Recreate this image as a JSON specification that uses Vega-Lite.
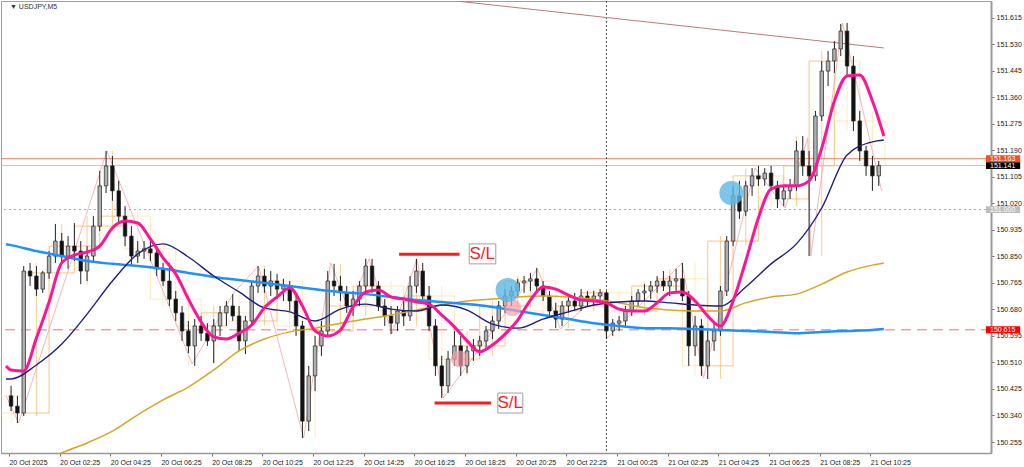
{
"$schema": "https://vega.github.io/schema/vega-lite/v6.json",
"width": 990, "height": 452, "padding": 0, "autosize": {"type": "pad"},
"background": "white",
"config": {"view": {"stroke": "#a0a0a0"}, "font": "Liberation Sans",
 "axisY": {"labelOverlap": false, "labelFlush": false, "labelFontSize": 7, "grid": false},
 "axisX": {"labelOverlap": false, "labelFlush": false, "labelFontSize": 7, "grid": false}},
"datasets": {
"candles": [
{"t":"2025-10-20T00:30Z","o":150.403,"h":150.435,"l":150.354,"c":150.370},
{"t":"2025-10-20T00:45Z","o":150.370,"h":150.403,"l":150.316,"c":150.348},
{"t":"2025-10-20T01:00Z","o":150.348,"h":150.819,"l":150.338,"c":150.803},
{"t":"2025-10-20T01:15Z","o":150.803,"h":150.829,"l":150.755,"c":150.787},
{"t":"2025-10-20T01:30Z","o":150.787,"h":150.819,"l":150.723,"c":150.745},
{"t":"2025-10-20T01:45Z","o":150.745,"h":150.803,"l":150.733,"c":150.797},
{"t":"2025-10-20T02:00Z","o":150.797,"h":150.867,"l":150.778,"c":150.851},
{"t":"2025-10-20T02:15Z","o":150.851,"h":150.954,"l":150.829,"c":150.899},
{"t":"2025-10-20T02:30Z","o":150.899,"h":150.925,"l":150.829,"c":150.851},
{"t":"2025-10-20T02:45Z","o":150.851,"h":150.915,"l":150.810,"c":150.883},
{"t":"2025-10-20T03:00Z","o":150.883,"h":150.957,"l":150.835,"c":150.867},
{"t":"2025-10-20T03:15Z","o":150.867,"h":150.899,"l":150.761,"c":150.803},
{"t":"2025-10-20T03:30Z","o":150.803,"h":150.883,"l":150.771,"c":150.851},
{"t":"2025-10-20T03:45Z","o":150.851,"h":150.979,"l":150.835,"c":150.947},
{"t":"2025-10-20T04:00Z","o":150.947,"h":151.124,"l":150.931,"c":151.076},
{"t":"2025-10-20T04:15Z","o":151.076,"h":151.188,"l":151.053,"c":151.140},
{"t":"2025-10-20T04:30Z","o":151.140,"h":151.172,"l":151.028,"c":151.060},
{"t":"2025-10-20T04:45Z","o":151.060,"h":151.092,"l":150.957,"c":150.979},
{"t":"2025-10-20T05:00Z","o":150.979,"h":151.011,"l":150.883,"c":150.915},
{"t":"2025-10-20T05:15Z","o":150.915,"h":150.947,"l":150.819,"c":150.851},
{"t":"2025-10-20T05:30Z","o":150.851,"h":150.899,"l":150.829,"c":150.867},
{"t":"2025-10-20T05:45Z","o":150.867,"h":150.899,"l":150.842,"c":150.874},
{"t":"2025-10-20T06:00Z","o":150.874,"h":150.906,"l":150.835,"c":150.861},
{"t":"2025-10-20T06:15Z","o":150.861,"h":150.883,"l":150.787,"c":150.810},
{"t":"2025-10-20T06:30Z","o":150.810,"h":150.829,"l":150.755,"c":150.771},
{"t":"2025-10-20T06:45Z","o":150.771,"h":150.829,"l":150.691,"c":150.713},
{"t":"2025-10-20T07:00Z","o":150.713,"h":150.739,"l":150.643,"c":150.669},
{"t":"2025-10-20T07:15Z","o":150.669,"h":150.691,"l":150.579,"c":150.611},
{"t":"2025-10-20T07:30Z","o":150.611,"h":150.643,"l":150.540,"c":150.563},
{"t":"2025-10-20T07:45Z","o":150.563,"h":150.649,"l":150.499,"c":150.627},
{"t":"2025-10-20T08:00Z","o":150.627,"h":150.659,"l":150.579,"c":150.604},
{"t":"2025-10-20T08:15Z","o":150.604,"h":150.636,"l":150.563,"c":150.579},
{"t":"2025-10-20T08:30Z","o":150.579,"h":150.649,"l":150.508,"c":150.627},
{"t":"2025-10-20T08:45Z","o":150.627,"h":150.691,"l":150.595,"c":150.669},
{"t":"2025-10-20T09:00Z","o":150.669,"h":150.707,"l":150.627,"c":150.691},
{"t":"2025-10-20T09:15Z","o":150.691,"h":150.729,"l":150.643,"c":150.659},
{"t":"2025-10-20T09:30Z","o":150.659,"h":150.691,"l":150.547,"c":150.579},
{"t":"2025-10-20T09:45Z","o":150.579,"h":150.659,"l":150.537,"c":150.643},
{"t":"2025-10-20T10:00Z","o":150.643,"h":150.771,"l":150.627,"c":150.755},
{"t":"2025-10-20T10:15Z","o":150.755,"h":150.819,"l":150.733,"c":150.787},
{"t":"2025-10-20T10:30Z","o":150.787,"h":150.810,"l":150.733,"c":150.755},
{"t":"2025-10-20T10:45Z","o":150.755,"h":150.803,"l":150.723,"c":150.771},
{"t":"2025-10-20T11:00Z","o":150.771,"h":150.794,"l":150.713,"c":150.745},
{"t":"2025-10-20T11:15Z","o":150.745,"h":150.778,"l":150.707,"c":150.755},
{"t":"2025-10-20T11:30Z","o":150.755,"h":150.771,"l":150.675,"c":150.707},
{"t":"2025-10-20T11:45Z","o":150.707,"h":150.723,"l":150.595,"c":150.627},
{"t":"2025-10-20T12:00Z","o":150.627,"h":150.643,"l":150.268,"c":150.322},
{"t":"2025-10-20T12:15Z","o":150.322,"h":150.499,"l":150.290,"c":150.467},
{"t":"2025-10-20T12:30Z","o":150.467,"h":150.595,"l":150.418,"c":150.563},
{"t":"2025-10-20T12:45Z","o":150.563,"h":150.643,"l":150.531,"c":150.611},
{"t":"2025-10-20T13:00Z","o":150.611,"h":150.803,"l":150.595,"c":150.771},
{"t":"2025-10-20T13:15Z","o":150.771,"h":150.826,"l":150.723,"c":150.755},
{"t":"2025-10-20T13:30Z","o":150.755,"h":150.787,"l":150.707,"c":150.733},
{"t":"2025-10-20T13:45Z","o":150.733,"h":150.755,"l":150.669,"c":150.691},
{"t":"2025-10-20T14:00Z","o":150.691,"h":150.739,"l":150.659,"c":150.713},
{"t":"2025-10-20T14:15Z","o":150.713,"h":150.771,"l":150.691,"c":150.755},
{"t":"2025-10-20T14:30Z","o":150.755,"h":150.842,"l":150.739,"c":150.819},
{"t":"2025-10-20T14:45Z","o":150.819,"h":150.842,"l":150.733,"c":150.755},
{"t":"2025-10-20T15:00Z","o":150.755,"h":150.771,"l":150.675,"c":150.691},
{"t":"2025-10-20T15:15Z","o":150.691,"h":150.713,"l":150.627,"c":150.659},
{"t":"2025-10-20T15:30Z","o":150.659,"h":150.691,"l":150.601,"c":150.636},
{"t":"2025-10-20T15:45Z","o":150.636,"h":150.691,"l":150.611,"c":150.675},
{"t":"2025-10-20T16:00Z","o":150.675,"h":150.707,"l":150.627,"c":150.659},
{"t":"2025-10-20T16:15Z","o":150.659,"h":150.787,"l":150.643,"c":150.755},
{"t":"2025-10-20T16:30Z","o":150.755,"h":150.842,"l":150.733,"c":150.803},
{"t":"2025-10-20T16:45Z","o":150.803,"h":150.829,"l":150.707,"c":150.723},
{"t":"2025-10-20T17:00Z","o":150.723,"h":150.755,"l":150.611,"c":150.627},
{"t":"2025-10-20T17:15Z","o":150.627,"h":150.649,"l":150.467,"c":150.499},
{"t":"2025-10-20T17:30Z","o":150.499,"h":150.531,"l":150.396,"c":150.435},
{"t":"2025-10-20T17:45Z","o":150.435,"h":150.547,"l":150.412,"c":150.521},
{"t":"2025-10-20T18:00Z","o":150.521,"h":150.611,"l":150.499,"c":150.563},
{"t":"2025-10-20T18:15Z","o":150.563,"h":150.595,"l":150.467,"c":150.499},
{"t":"2025-10-20T18:30Z","o":150.499,"h":150.563,"l":150.476,"c":150.547},
{"t":"2025-10-20T18:45Z","o":150.547,"h":150.585,"l":150.515,"c":150.563},
{"t":"2025-10-20T19:00Z","o":150.563,"h":150.595,"l":150.531,"c":150.579},
{"t":"2025-10-20T19:15Z","o":150.579,"h":150.627,"l":150.547,"c":150.611},
{"t":"2025-10-20T19:30Z","o":150.611,"h":150.659,"l":150.585,"c":150.643},
{"t":"2025-10-20T19:45Z","o":150.643,"h":150.707,"l":150.617,"c":150.691},
{"t":"2025-10-20T20:00Z","o":150.691,"h":150.745,"l":150.669,"c":150.723},
{"t":"2025-10-20T20:15Z","o":150.723,"h":150.755,"l":150.691,"c":150.739},
{"t":"2025-10-20T20:30Z","o":150.739,"h":150.778,"l":150.723,"c":150.765},
{"t":"2025-10-20T20:45Z","o":150.765,"h":150.787,"l":150.733,"c":150.771},
{"t":"2025-10-20T21:00Z","o":150.771,"h":150.797,"l":150.739,"c":150.778},
{"t":"2025-10-20T21:15Z","o":150.778,"h":150.813,"l":150.739,"c":150.755},
{"t":"2025-10-20T21:30Z","o":150.755,"h":150.771,"l":150.707,"c":150.723},
{"t":"2025-10-20T21:45Z","o":150.723,"h":150.739,"l":150.659,"c":150.675},
{"t":"2025-10-20T22:00Z","o":150.675,"h":150.701,"l":150.620,"c":150.649},
{"t":"2025-10-20T22:15Z","o":150.649,"h":150.707,"l":150.627,"c":150.691},
{"t":"2025-10-20T22:30Z","o":150.691,"h":150.723,"l":150.669,"c":150.707},
{"t":"2025-10-20T22:45Z","o":150.707,"h":150.733,"l":150.675,"c":150.691},
{"t":"2025-10-20T23:00Z","o":150.691,"h":150.745,"l":150.675,"c":150.723},
{"t":"2025-10-20T23:15Z","o":150.723,"h":150.739,"l":150.691,"c":150.713},
{"t":"2025-10-20T23:30Z","o":150.713,"h":150.739,"l":150.691,"c":150.723},
{"t":"2025-10-20T23:45Z","o":150.723,"h":150.745,"l":150.701,"c":150.733},
{"t":"2025-10-21T00:00Z","o":150.733,"h":150.739,"l":150.585,"c":150.611},
{"t":"2025-10-21T00:15Z","o":150.611,"h":150.649,"l":150.595,"c":150.636},
{"t":"2025-10-21T00:30Z","o":150.636,"h":150.659,"l":150.611,"c":150.643},
{"t":"2025-10-21T00:45Z","o":150.643,"h":150.691,"l":150.627,"c":150.675},
{"t":"2025-10-21T01:00Z","o":150.675,"h":150.723,"l":150.659,"c":150.707},
{"t":"2025-10-21T01:15Z","o":150.707,"h":150.745,"l":150.691,"c":150.733},
{"t":"2025-10-21T01:30Z","o":150.733,"h":150.761,"l":150.707,"c":150.739},
{"t":"2025-10-21T01:45Z","o":150.739,"h":150.771,"l":150.713,"c":150.755},
{"t":"2025-10-21T02:00Z","o":150.755,"h":150.787,"l":150.733,"c":150.771},
{"t":"2025-10-21T02:15Z","o":150.771,"h":150.803,"l":150.739,"c":150.755},
{"t":"2025-10-21T02:30Z","o":150.755,"h":150.787,"l":150.723,"c":150.771},
{"t":"2025-10-21T02:45Z","o":150.771,"h":150.810,"l":150.739,"c":150.778},
{"t":"2025-10-21T03:00Z","o":150.778,"h":150.829,"l":150.707,"c":150.723},
{"t":"2025-10-21T03:15Z","o":150.723,"h":150.739,"l":150.499,"c":150.563},
{"t":"2025-10-21T03:30Z","o":150.563,"h":150.659,"l":150.531,"c":150.627},
{"t":"2025-10-21T03:45Z","o":150.627,"h":150.649,"l":150.467,"c":150.499},
{"t":"2025-10-21T04:00Z","o":150.499,"h":150.611,"l":150.457,"c":150.579},
{"t":"2025-10-21T04:15Z","o":150.579,"h":150.636,"l":150.547,"c":150.611},
{"t":"2025-10-21T04:30Z","o":150.611,"h":150.755,"l":150.595,"c":150.739},
{"t":"2025-10-21T04:45Z","o":150.739,"h":150.915,"l":150.723,"c":150.899},
{"t":"2025-10-21T05:00Z","o":150.899,"h":151.076,"l":150.883,"c":151.044},
{"t":"2025-10-21T05:15Z","o":151.044,"h":151.092,"l":150.970,"c":150.995},
{"t":"2025-10-21T05:30Z","o":150.995,"h":151.092,"l":150.979,"c":151.076},
{"t":"2025-10-21T05:45Z","o":151.076,"h":151.133,"l":151.044,"c":151.108},
{"t":"2025-10-21T06:00Z","o":151.108,"h":151.140,"l":151.076,"c":151.098},
{"t":"2025-10-21T06:15Z","o":151.098,"h":151.133,"l":151.076,"c":151.117},
{"t":"2025-10-21T06:30Z","o":151.117,"h":151.140,"l":151.060,"c":151.076},
{"t":"2025-10-21T06:45Z","o":151.076,"h":151.092,"l":151.005,"c":151.034},
{"t":"2025-10-21T07:00Z","o":151.034,"h":151.076,"l":151.011,"c":151.060},
{"t":"2025-10-21T07:15Z","o":151.060,"h":151.098,"l":151.034,"c":151.076},
{"t":"2025-10-21T07:30Z","o":151.076,"h":151.220,"l":151.060,"c":151.188},
{"t":"2025-10-21T07:45Z","o":151.188,"h":151.236,"l":151.108,"c":151.140},
{"t":"2025-10-21T08:00Z","o":151.140,"h":151.188,"l":150.851,"c":151.108},
{"t":"2025-10-21T08:15Z","o":151.108,"h":151.316,"l":151.092,"c":151.300},
{"t":"2025-10-21T08:30Z","o":151.300,"h":151.476,"l":151.284,"c":151.444},
{"t":"2025-10-21T08:45Z","o":151.444,"h":151.508,"l":151.396,"c":151.476},
{"t":"2025-10-21T09:00Z","o":151.476,"h":151.540,"l":151.438,"c":151.515},
{"t":"2025-10-21T09:15Z","o":151.515,"h":151.595,"l":151.492,"c":151.572},
{"t":"2025-10-21T09:30Z","o":151.572,"h":151.598,"l":151.428,"c":151.460},
{"t":"2025-10-21T09:45Z","o":151.460,"h":151.492,"l":151.252,"c":151.284},
{"t":"2025-10-21T10:00Z","o":151.284,"h":151.316,"l":151.156,"c":151.188},
{"t":"2025-10-21T10:15Z","o":151.188,"h":151.204,"l":151.108,"c":151.140},
{"t":"2025-10-21T10:30Z","o":151.140,"h":151.172,"l":151.060,"c":151.108},
{"t":"2025-10-21T10:45Z","o":151.108,"h":151.156,"l":151.076,"c":151.141}
],
"fast": [
{"t":"2025-10-20T00:18Z","v":150.499},
{"t":"2025-10-20T00:30Z","v":150.486},{"t":"2025-10-20T01:00Z","v":150.483},{"t":"2025-10-20T01:30Z","v":150.588},{"t":"2025-10-20T02:00Z","v":150.704},
{"t":"2025-10-20T02:30Z","v":150.829},{"t":"2025-10-20T03:00Z","v":150.854},{"t":"2025-10-20T03:30Z","v":150.864},{"t":"2025-10-20T04:00Z","v":150.883},
{"t":"2025-10-20T04:30Z","v":150.941},{"t":"2025-10-20T05:00Z","v":150.963},{"t":"2025-10-20T05:30Z","v":150.957},{"t":"2025-10-20T06:00Z","v":150.906},
{"t":"2025-10-20T06:30Z","v":150.845},{"t":"2025-10-20T07:00Z","v":150.794},{"t":"2025-10-20T07:30Z","v":150.713},{"t":"2025-10-20T08:00Z","v":150.640},
{"t":"2025-10-20T08:30Z","v":150.592},{"t":"2025-10-20T09:00Z","v":150.585},{"t":"2025-10-20T09:30Z","v":150.604},{"t":"2025-10-20T10:00Z","v":150.630},
{"t":"2025-10-20T10:30Z","v":150.685},{"t":"2025-10-20T11:00Z","v":150.720},{"t":"2025-10-20T11:30Z","v":150.749},{"t":"2025-10-20T12:00Z","v":150.691},
{"t":"2025-10-20T12:30Z","v":150.611},{"t":"2025-10-20T13:00Z","v":150.595},{"t":"2025-10-20T13:30Z","v":150.614},{"t":"2025-10-20T14:00Z","v":150.688},
{"t":"2025-10-20T14:30Z","v":150.736},{"t":"2025-10-20T15:00Z","v":150.742},{"t":"2025-10-20T15:30Z","v":150.720},{"t":"2025-10-20T16:00Z","v":150.713},
{"t":"2025-10-20T16:30Z","v":150.704},{"t":"2025-10-20T17:00Z","v":150.697},{"t":"2025-10-20T17:30Z","v":150.662},{"t":"2025-10-20T18:00Z","v":150.624},
{"t":"2025-10-20T18:30Z","v":150.579},{"t":"2025-10-20T19:00Z","v":150.544},{"t":"2025-10-20T19:30Z","v":150.566},{"t":"2025-10-20T20:00Z","v":150.601},
{"t":"2025-10-20T20:30Z","v":150.646},{"t":"2025-10-20T21:00Z","v":150.710},{"t":"2025-10-20T21:30Z","v":150.752},{"t":"2025-10-20T22:00Z","v":150.745},
{"t":"2025-10-20T22:30Z","v":150.726},{"t":"2025-10-20T23:00Z","v":150.710},{"t":"2025-10-20T23:30Z","v":150.707},{"t":"2025-10-21T00:00Z","v":150.701},
{"t":"2025-10-21T00:30Z","v":150.681},{"t":"2025-10-21T01:00Z","v":150.675},{"t":"2025-10-21T01:30Z","v":150.675},{"t":"2025-10-21T02:00Z","v":150.701},
{"t":"2025-10-21T02:30Z","v":150.733},{"t":"2025-10-21T03:00Z","v":150.736},{"t":"2025-10-21T03:30Z","v":150.707},{"t":"2025-10-21T04:00Z","v":150.659},
{"t":"2025-10-21T04:30Z","v":150.627},{"t":"2025-10-21T05:00Z","v":150.707},{"t":"2025-10-21T05:30Z","v":150.835},{"t":"2025-10-21T06:00Z","v":150.973},
{"t":"2025-10-21T06:30Z","v":151.066},{"t":"2025-10-21T07:00Z","v":151.076},{"t":"2025-10-21T07:30Z","v":151.076},{"t":"2025-10-21T08:00Z","v":151.092},
{"t":"2025-10-21T08:30Z","v":151.197},{"t":"2025-10-21T09:00Z","v":151.348},{"t":"2025-10-21T09:30Z","v":151.428},{"t":"2025-10-21T10:00Z","v":151.431},
{"t":"2025-10-21T10:30Z","v":151.348},{"t":"2025-10-21T10:57Z","v":151.236}
],
"slow": [
{"t":"2025-10-20T00:18Z","n":150.457,"b":150.889,"g":150.140},
{"t":"2025-10-20T00:30Z","n":150.457,"b":150.886,"g":150.146},
{"t":"2025-10-20T01:30Z","n":150.502,"b":150.867,"g":150.178},
{"t":"2025-10-20T02:30Z","n":150.569,"b":150.851,"g":150.220},
{"t":"2025-10-20T03:30Z","n":150.665,"b":150.835,"g":150.252},
{"t":"2025-10-20T04:30Z","n":150.771,"b":150.826,"g":150.290},
{"t":"2025-10-20T05:30Z","n":150.858,"b":150.819,"g":150.342},
{"t":"2025-10-20T06:30Z","n":150.890,"b":150.810,"g":150.390},
{"t":"2025-10-20T07:30Z","n":150.848,"b":150.797,"g":150.431},
{"t":"2025-10-20T08:30Z","n":150.787,"b":150.784,"g":150.486},
{"t":"2025-10-20T09:30Z","n":150.736,"b":150.774,"g":150.547},
{"t":"2025-10-20T10:30Z","n":150.685,"b":150.765,"g":150.585},
{"t":"2025-10-20T11:30Z","n":150.672,"b":150.755,"g":150.608},
{"t":"2025-10-20T12:30Z","n":150.643,"b":150.745,"g":150.620},
{"t":"2025-10-20T13:30Z","n":150.681,"b":150.736,"g":150.636},
{"t":"2025-10-20T14:30Z","n":150.697,"b":150.729,"g":150.649},
{"t":"2025-10-20T15:30Z","n":150.681,"b":150.720,"g":150.662},
{"t":"2025-10-20T16:30Z","n":150.675,"b":150.710,"g":150.678},
{"t":"2025-10-20T17:30Z","n":150.694,"b":150.704,"g":150.694},
{"t":"2025-10-20T18:30Z","n":150.678,"b":150.697,"g":150.707},
{"t":"2025-10-20T19:30Z","n":150.633,"b":150.688,"g":150.713},
{"t":"2025-10-20T20:30Z","n":150.620,"b":150.675,"g":150.720},
{"t":"2025-10-20T21:30Z","n":150.649,"b":150.662,"g":150.723},
{"t":"2025-10-20T22:30Z","n":150.672,"b":150.649,"g":150.720},
{"t":"2025-10-20T23:30Z","n":150.694,"b":150.636,"g":150.713},
{"t":"2025-10-21T00:30Z","n":150.704,"b":150.627,"g":150.701},
{"t":"2025-10-21T01:30Z","n":150.707,"b":150.620,"g":150.685},
{"t":"2025-10-21T02:30Z","n":150.701,"b":150.620,"g":150.678},
{"t":"2025-10-21T03:30Z","n":150.694,"b":150.617,"g":150.675},
{"t":"2025-10-21T04:30Z","n":150.691,"b":150.614,"g":150.675},
{"t":"2025-10-21T05:30Z","n":150.752,"b":150.611,"g":150.701},
{"t":"2025-10-21T06:30Z","n":150.826,"b":150.608,"g":150.720},
{"t":"2025-10-21T07:30Z","n":150.890,"b":150.604,"g":150.729},
{"t":"2025-10-21T08:30Z","n":151.005,"b":150.608,"g":150.761},
{"t":"2025-10-21T09:30Z","n":151.175,"b":150.611,"g":150.800},
{"t":"2025-10-21T10:30Z","n":151.217,"b":150.614,"g":150.822},
{"t":"2025-10-21T10:57Z","n":151.223,"b":150.617,"g":150.829}
],
"h1": [
{"t":"2025-10-20T00:00Z","e":"2025-10-20T01:00Z","m":"2025-10-20T00:30Z","o":150.403,"c":150.348,"h":150.435,"l":150.316},
{"t":"2025-10-20T01:00Z","e":"2025-10-20T02:00Z","m":"2025-10-20T01:30Z","o":150.348,"c":150.797,"h":150.829,"l":150.338},
{"t":"2025-10-20T02:00Z","e":"2025-10-20T03:00Z","m":"2025-10-20T02:30Z","o":150.797,"c":150.883,"h":150.954,"l":150.810},
{"t":"2025-10-20T03:00Z","e":"2025-10-20T04:00Z","m":"2025-10-20T03:30Z","o":150.883,"c":150.947,"h":150.979,"l":150.761},
{"t":"2025-10-20T04:00Z","e":"2025-10-20T05:00Z","m":"2025-10-20T04:30Z","o":150.947,"c":150.979,"h":151.188,"l":150.931},
{"t":"2025-10-20T05:00Z","e":"2025-10-20T06:00Z","m":"2025-10-20T05:30Z","o":150.979,"c":150.874,"h":151.011,"l":150.819},
{"t":"2025-10-20T06:00Z","e":"2025-10-20T07:00Z","m":"2025-10-20T06:30Z","o":150.874,"c":150.713,"h":150.906,"l":150.691},
{"t":"2025-10-20T07:00Z","e":"2025-10-20T08:00Z","m":"2025-10-20T07:30Z","o":150.713,"c":150.627,"h":150.739,"l":150.499},
{"t":"2025-10-20T08:00Z","e":"2025-10-20T09:00Z","m":"2025-10-20T08:30Z","o":150.627,"c":150.669,"h":150.691,"l":150.508},
{"t":"2025-10-20T09:00Z","e":"2025-10-20T10:00Z","m":"2025-10-20T09:30Z","o":150.669,"c":150.643,"h":150.729,"l":150.537},
{"t":"2025-10-20T10:00Z","e":"2025-10-20T11:00Z","m":"2025-10-20T10:30Z","o":150.643,"c":150.771,"h":150.819,"l":150.627},
{"t":"2025-10-20T11:00Z","e":"2025-10-20T12:00Z","m":"2025-10-20T11:30Z","o":150.771,"c":150.627,"h":150.794,"l":150.595},
{"t":"2025-10-20T12:00Z","e":"2025-10-20T13:00Z","m":"2025-10-20T12:30Z","o":150.627,"c":150.611,"h":150.643,"l":150.268},
{"t":"2025-10-20T13:00Z","e":"2025-10-20T14:00Z","m":"2025-10-20T13:30Z","o":150.611,"c":150.691,"h":150.826,"l":150.595},
{"t":"2025-10-20T14:00Z","e":"2025-10-20T15:00Z","m":"2025-10-20T14:30Z","o":150.691,"c":150.755,"h":150.842,"l":150.659},
{"t":"2025-10-20T15:00Z","e":"2025-10-20T16:00Z","m":"2025-10-20T15:30Z","o":150.755,"c":150.675,"h":150.771,"l":150.601},
{"t":"2025-10-20T16:00Z","e":"2025-10-20T17:00Z","m":"2025-10-20T16:30Z","o":150.675,"c":150.723,"h":150.842,"l":150.627},
{"t":"2025-10-20T17:00Z","e":"2025-10-20T18:00Z","m":"2025-10-20T17:30Z","o":150.723,"c":150.521,"h":150.755,"l":150.396},
{"t":"2025-10-20T18:00Z","e":"2025-10-20T19:00Z","m":"2025-10-20T18:30Z","o":150.521,"c":150.563,"h":150.611,"l":150.467},
{"t":"2025-10-20T19:00Z","e":"2025-10-20T20:00Z","m":"2025-10-20T19:30Z","o":150.563,"c":150.691,"h":150.707,"l":150.531},
{"t":"2025-10-20T20:00Z","e":"2025-10-20T21:00Z","m":"2025-10-20T20:30Z","o":150.691,"c":150.771,"h":150.787,"l":150.669},
{"t":"2025-10-20T21:00Z","e":"2025-10-20T22:00Z","m":"2025-10-20T21:30Z","o":150.771,"c":150.675,"h":150.813,"l":150.659},
{"t":"2025-10-20T22:00Z","e":"2025-10-20T23:00Z","m":"2025-10-20T22:30Z","o":150.675,"c":150.691,"h":150.723,"l":150.620},
{"t":"2025-10-20T23:00Z","e":"2025-10-21T00:00Z","m":"2025-10-20T23:30Z","o":150.691,"c":150.733,"h":150.745,"l":150.675},
{"t":"2025-10-21T00:00Z","e":"2025-10-21T01:00Z","m":"2025-10-21T00:30Z","o":150.733,"c":150.675,"h":150.739,"l":150.585},
{"t":"2025-10-21T01:00Z","e":"2025-10-21T02:00Z","m":"2025-10-21T01:30Z","o":150.675,"c":150.755,"h":150.771,"l":150.659},
{"t":"2025-10-21T02:00Z","e":"2025-10-21T03:00Z","m":"2025-10-21T02:30Z","o":150.755,"c":150.778,"h":150.810,"l":150.723},
{"t":"2025-10-21T03:00Z","e":"2025-10-21T04:00Z","m":"2025-10-21T03:30Z","o":150.778,"c":150.499,"h":150.829,"l":150.467},
{"t":"2025-10-21T04:00Z","e":"2025-10-21T05:00Z","m":"2025-10-21T04:30Z","o":150.499,"c":150.899,"h":150.915,"l":150.457},
{"t":"2025-10-21T05:00Z","e":"2025-10-21T06:00Z","m":"2025-10-21T05:30Z","o":150.899,"c":151.108,"h":151.133,"l":150.883},
{"t":"2025-10-21T06:00Z","e":"2025-10-21T07:00Z","m":"2025-10-21T06:30Z","o":151.108,"c":151.034,"h":151.140,"l":151.005},
{"t":"2025-10-21T07:00Z","e":"2025-10-21T08:00Z","m":"2025-10-21T07:30Z","o":151.034,"c":151.140,"h":151.236,"l":151.011},
{"t":"2025-10-21T08:00Z","e":"2025-10-21T09:00Z","m":"2025-10-21T08:30Z","o":151.140,"c":151.476,"h":151.508,"l":150.851},
{"t":"2025-10-21T09:00Z","e":"2025-10-21T10:00Z","m":"2025-10-21T09:30Z","o":151.476,"c":151.284,"h":151.598,"l":151.252},
{"t":"2025-10-21T10:00Z","e":"2025-10-21T11:00Z","m":"2025-10-21T10:30Z","o":151.284,"c":151.141,"h":151.316,"l":151.060}
],
"zz": [
{"t":"2025-10-20T00:18Z","p":150.403},{"t":"2025-10-20T00:48Z","p":150.316},{"t":"2025-10-20T04:17Z","p":151.188},{"t":"2025-10-20T07:39Z","p":150.505},
{"t":"2025-10-20T09:17Z","p":150.733},{"t":"2025-10-20T10:16Z","p":150.819},{"t":"2025-10-20T12:03Z","p":150.268},{"t":"2025-10-20T13:07Z","p":150.829},
{"t":"2025-10-20T13:51Z","p":150.675},{"t":"2025-10-20T14:38Z","p":150.842},{"t":"2025-10-20T15:32Z","p":150.601},{"t":"2025-10-20T16:31Z","p":150.842},
{"t":"2025-10-20T17:34Z","p":150.396},{"t":"2025-10-20T21:17Z","p":150.810},{"t":"2025-10-20T22:11Z","p":150.617},{"t":"2025-10-20T23:51Z","p":150.739},
{"t":"2025-10-21T00:01Z","p":150.588},{"t":"2025-10-21T02:59Z","p":150.829},{"t":"2025-10-21T03:50Z","p":150.460},{"t":"2025-10-21T05:52Z","p":151.133},
{"t":"2025-10-21T07:03Z","p":151.005},{"t":"2025-10-21T07:57Z","p":151.229},{"t":"2025-10-21T08:04Z","p":150.851},{"t":"2025-10-21T09:19Z","p":151.598},
{"t":"2025-10-21T10:52Z","p":151.060}
],
"diag": [
{"t":"2025-10-20T18:04Z","p":151.6685},{"t":"2025-10-21T10:57Z","p":151.518}
],
"sl": [
{"a":"2025-10-20T15:49Z","b":"2025-10-20T18:12Z","p":150.857,"ba":"2025-10-20T18:35Z","bb":"2025-10-20T19:38Z","p1":150.890,"p2":150.826,"m":"2025-10-20T19:06Z","txt":"S/L"},
{"a":"2025-10-20T17:13Z","b":"2025-10-20T19:27Z","p":150.380,"ba":"2025-10-20T19:43Z","bb":"2025-10-20T20:42Z","p1":150.412,"p2":150.348,"m":"2025-10-20T20:12Z","txt":"S/L"}
],
"blue": [
{"t":"2025-10-20T20:06Z","p":150.742},{"t":"2025-10-21T04:56Z","p":151.053}
],
"pink": [
{"t":"2025-10-20T20:18Z","p":150.685},{"t":"2025-10-20T18:12Z","p":150.521}
],
"tags": [
{"p":151.163,"lo":151.152,"hi":151.174,"k":"ask"},
{"p":151.141,"lo":151.130,"hi":151.152,"k":"bid"},
{"p":151.000,"lo":150.989,"hi":151.011,"k":"level"},
{"p":150.615,"lo":150.604,"hi":150.626,"k":"line"}
],
"one": [{}]
},
"layer": [
{
"data": {"name": "h1"},
"mark": {"type": "rect", "filled": false, "strokeWidth": 1, "opacity": 0.7, "clip": true},
"encoding": {
"x": {"field": "t", "type": "temporal", "title": null,
 "scale": {"type": "utc", "domain": [{"year":2025,"month":"October","date":20,"hours":0,"minutes":18,"utc":true},{"year":2025,"month":"October","date":21,"hours":14,"minutes":59,"utc":true}]},
 "axis": {"orient": "bottom", "title": null, "grid": false, "tickCount": 30,
  "values": [
   {"year":2025,"month":"October","date":20,"hours":0,"minutes":25,"utc":true},
   {"year":2025,"month":"October","date":20,"hours":2,"minutes":25,"utc":true},
   {"year":2025,"month":"October","date":20,"hours":4,"minutes":25,"utc":true},
   {"year":2025,"month":"October","date":20,"hours":6,"minutes":25,"utc":true},
   {"year":2025,"month":"October","date":20,"hours":8,"minutes":25,"utc":true},
   {"year":2025,"month":"October","date":20,"hours":10,"minutes":25,"utc":true},
   {"year":2025,"month":"October","date":20,"hours":12,"minutes":25,"utc":true},
   {"year":2025,"month":"October","date":20,"hours":14,"minutes":25,"utc":true},
   {"year":2025,"month":"October","date":20,"hours":16,"minutes":25,"utc":true},
   {"year":2025,"month":"October","date":20,"hours":18,"minutes":25,"utc":true},
   {"year":2025,"month":"October","date":20,"hours":20,"minutes":25,"utc":true},
   {"year":2025,"month":"October","date":20,"hours":22,"minutes":25,"utc":true},
   {"year":2025,"month":"October","date":21,"hours":0,"minutes":25,"utc":true},
   {"year":2025,"month":"October","date":21,"hours":2,"minutes":25,"utc":true},
   {"year":2025,"month":"October","date":21,"hours":4,"minutes":25,"utc":true},
   {"year":2025,"month":"October","date":21,"hours":6,"minutes":25,"utc":true},
   {"year":2025,"month":"October","date":21,"hours":8,"minutes":25,"utc":true},
   {"year":2025,"month":"October","date":21,"hours":10,"minutes":25,"utc":true}],
  "labelExpr": "utcFormat(datum.value, '%d %H:%M') == '20 00:25' ? '20 Oct 2025' : utcFormat(datum.value, '%d %b %H:%M')",
  "labelAlign": "left", "labelBaseline": "top", "labelPadding": 2, "labelFontSize": 7, "labelColor": "#222",
  "labelOverlap": false, "labelFlush": false, "tickSize": 3, "tickColor": "#777", "domainColor": "#999", "domainWidth": 1.5}},
"x2": {"field": "e"},
"y": {"field": "o", "type": "quantitative", "title": null,
 "scale": {"domain": [150.2198, 151.6685], "zero": false, "nice": false},
 "axis": {"orient": "right", "title": null, "grid": false, "tickCount": 30,
  "values": [150.255,150.34,150.425,150.51,150.595,150.68,150.765,150.85,150.935,151.02,151.105,151.19,151.275,151.36,151.445,151.53,151.615],
  "format": ".3f", "labelFontSize": 7, "labelColor": "#222", "labelPadding": 2, "tickSize": 3, "tickColor": "#777",
  "domainColor": "#999", "domainWidth": 2, "labelOverlap": false, "labelFlush": false}},
"y2": {"field": "c"},
"stroke": {"condition": {"test": "datum.c > datum.o", "value": "#FFA94D"}, "value": "#FFDF9A"}
}
},
{
"data": {"name": "h1"},
"mark": {"type": "rule", "strokeWidth": 1, "opacity": 0.6, "clip": true},
"encoding": {
"x": {"field": "m", "type": "temporal", "scale": {"type": "utc"}, "title": null},
"y": {"field": "l", "type": "quantitative", "title": null},
"y2": {"field": "h"},
"stroke": {"condition": {"test": "datum.c > datum.o", "value": "#FFA94D"}, "value": "#FFDF9A"}
}
},
{
"data": {"name": "zz"},
"mark": {"type": "line", "stroke": "#F4A3A3", "strokeWidth": 0.8, "clip": true},
"encoding": {
"x": {"field": "t", "type": "temporal", "scale": {"type": "utc"}, "title": null},
"y": {"field": "p", "type": "quantitative", "title": null}
}
},
{
"data": {"name": "one"},
"mark": {"type": "rule", "stroke": "#F08060", "strokeWidth": 1},
"encoding": {"y": {"datum": 151.163, "type": "quantitative", "title": null}}
},
{
"data": {"name": "one"},
"mark": {"type": "rule", "stroke": "#C4C4C4", "strokeWidth": 1},
"encoding": {"y": {"datum": 151.141, "type": "quantitative", "title": null}}
},
{
"data": {"name": "one"},
"mark": {"type": "rule", "stroke": "#A8A8A8", "strokeWidth": 1, "strokeDash": [2, 3]},
"encoding": {"y": {"datum": 151.0, "type": "quantitative", "title": null}}
},
{
"data": {"name": "one"},
"mark": {"type": "rule", "stroke": "#F4A0A0", "strokeWidth": 1.5, "strokeDash": [10, 6]},
"encoding": {"y": {"datum": 150.615, "type": "quantitative", "title": null}}
},
{
"data": {"name": "one"},
"mark": {"type": "rule", "stroke": "#555555", "strokeWidth": 1, "strokeDash": [2, 2]},
"encoding": {"x": {"datum": {"year":2025,"month":"October","date":21,"hours":0,"minutes":0,"utc":true}, "type": "temporal", "scale": {"type": "utc"}, "title": null}}
},
{
"data": {"name": "diag"},
"mark": {"type": "line", "stroke": "#C07878", "strokeWidth": 1, "clip": true},
"encoding": {
"x": {"field": "t", "type": "temporal", "scale": {"type": "utc"}, "title": null},
"y": {"field": "p", "type": "quantitative", "title": null}
}
},
{
"data": {"name": "candles"},
"mark": {"type": "rule", "stroke": "#222222", "strokeWidth": 1},
"encoding": {
"x": {"field": "t", "type": "temporal", "scale": {"type": "utc"}, "title": null},
"y": {"field": "l", "type": "quantitative", "title": null},
"y2": {"field": "h"}
}
},
{
"data": {"name": "candles"},
"mark": {"type": "bar", "size": 3.5, "stroke": "#222222", "strokeWidth": 0.7},
"encoding": {
"x": {"field": "t", "type": "temporal", "scale": {"type": "utc"}, "title": null},
"y": {"field": "o", "type": "quantitative", "title": null},
"y2": {"field": "c"},
"fill": {"condition": {"test": "datum.c >= datum.o", "value": "#b0b0b0"}, "value": "#111111"}
}
},
{
"data": {"name": "slow"},
"mark": {"type": "line", "stroke": "#DAA520", "strokeWidth": 1.5, "interpolate": "monotone", "clip": true},
"encoding": {
"x": {"field": "t", "type": "temporal", "scale": {"type": "utc"}, "title": null},
"y": {"field": "g", "type": "quantitative", "title": null}
}
},
{
"data": {"name": "slow"},
"mark": {"type": "line", "stroke": "#1E90FF", "strokeWidth": 2.5, "interpolate": "monotone", "clip": true},
"encoding": {
"x": {"field": "t", "type": "temporal", "scale": {"type": "utc"}, "title": null},
"y": {"field": "b", "type": "quantitative", "title": null}
}
},
{
"data": {"name": "slow"},
"mark": {"type": "line", "stroke": "#1F1F80", "strokeWidth": 1.4, "interpolate": "monotone", "clip": true},
"encoding": {
"x": {"field": "t", "type": "temporal", "scale": {"type": "utc"}, "title": null},
"y": {"field": "n", "type": "quantitative", "title": null}
}
},
{
"data": {"name": "fast"},
"mark": {"type": "line", "stroke": "#FF1493", "strokeWidth": 3, "interpolate": "monotone", "clip": true},
"encoding": {
"x": {"field": "t", "type": "temporal", "scale": {"type": "utc"}, "title": null},
"y": {"field": "v", "type": "quantitative", "title": null}
}
},
{
"data": {"name": "pink"},
"mark": {"type": "point", "filled": true, "shape": "circle", "size": 290, "color": "#F4A0AC", "opacity": 0.7},
"encoding": {
"x": {"field": "t", "type": "temporal", "scale": {"type": "utc"}, "title": null},
"y": {"field": "p", "type": "quantitative", "title": null}
}
},
{
"data": {"name": "blue"},
"mark": {"type": "point", "filled": true, "shape": "circle", "size": 580, "color": "#5CB6E4", "opacity": 0.8},
"encoding": {
"x": {"field": "t", "type": "temporal", "scale": {"type": "utc"}, "title": null},
"y": {"field": "p", "type": "quantitative", "title": null}
}
},
{
"data": {"name": "sl"},
"mark": {"type": "rule", "stroke": "#FF1A1A", "strokeWidth": 3},
"encoding": {
"x": {"field": "a", "type": "temporal", "scale": {"type": "utc"}, "title": null},
"x2": {"field": "b"},
"y": {"field": "p", "type": "quantitative", "title": null}
}
},
{
"data": {"name": "sl"},
"mark": {"type": "rect", "fill": "#ffffff", "stroke": "#A0A0A0", "strokeWidth": 1},
"encoding": {
"x": {"field": "ba", "type": "temporal", "scale": {"type": "utc"}, "title": null},
"x2": {"field": "bb"},
"y": {"field": "p1", "type": "quantitative", "title": null},
"y2": {"field": "p2"}
}
},
{
"data": {"name": "sl"},
"mark": {"type": "text", "fontSize": 17, "color": "#FF1A1A", "align": "center", "baseline": "middle"},
"encoding": {
"x": {"field": "m", "type": "temporal", "scale": {"type": "utc"}, "title": null},
"y": {"field": "p", "type": "quantitative", "title": null},
"text": {"field": "txt"}
}
},
{
"data": {"name": "one"},
"mark": {"type": "text", "text": "▼ USDJPY,M5", "fontSize": 7, "color": "#333333", "align": "left", "baseline": "top", "dx": 4, "dy": 2},
"encoding": {
"x": {"datum": {"year":2025,"month":"October","date":20,"hours":0,"minutes":18,"utc":true}, "type": "temporal", "scale": {"type": "utc"}, "title": null},
"y": {"datum": 151.6685, "type": "quantitative", "title": null}
}
},
{
"data": {"name": "tags"},
"mark": {"type": "rect", "clip": false},
"encoding": {
"x": {"datum": {"year":2025,"month":"October","date":21,"hours":14,"minutes":59,"utc":true}, "type": "temporal", "scale": {"type": "utc"}, "title": null},
"x2": {"datum": {"year":2025,"month":"October","date":21,"hours":16,"minutes":20,"utc":true}},
"y": {"field": "lo", "type": "quantitative", "title": null},
"y2": {"field": "hi"},
"fill": {"field": "k", "type": "nominal", "legend": null,
 "scale": {"domain": ["ask", "bid", "level", "line"], "range": ["#FF4A1A", "#000000", "#BDBDBD", "#FF0000"]}}
}
},
{
"data": {"name": "tags"},
"mark": {"type": "text", "fontSize": 7, "color": "#ffffff", "align": "left", "baseline": "middle", "dx": 4, "clip": false},
"encoding": {
"x": {"datum": {"year":2025,"month":"October","date":21,"hours":14,"minutes":59,"utc":true}, "type": "temporal", "scale": {"type": "utc"}, "title": null},
"y": {"field": "p", "type": "quantitative", "title": null},
"text": {"field": "p", "type": "quantitative", "format": ".3f"}
}
}
]
}
